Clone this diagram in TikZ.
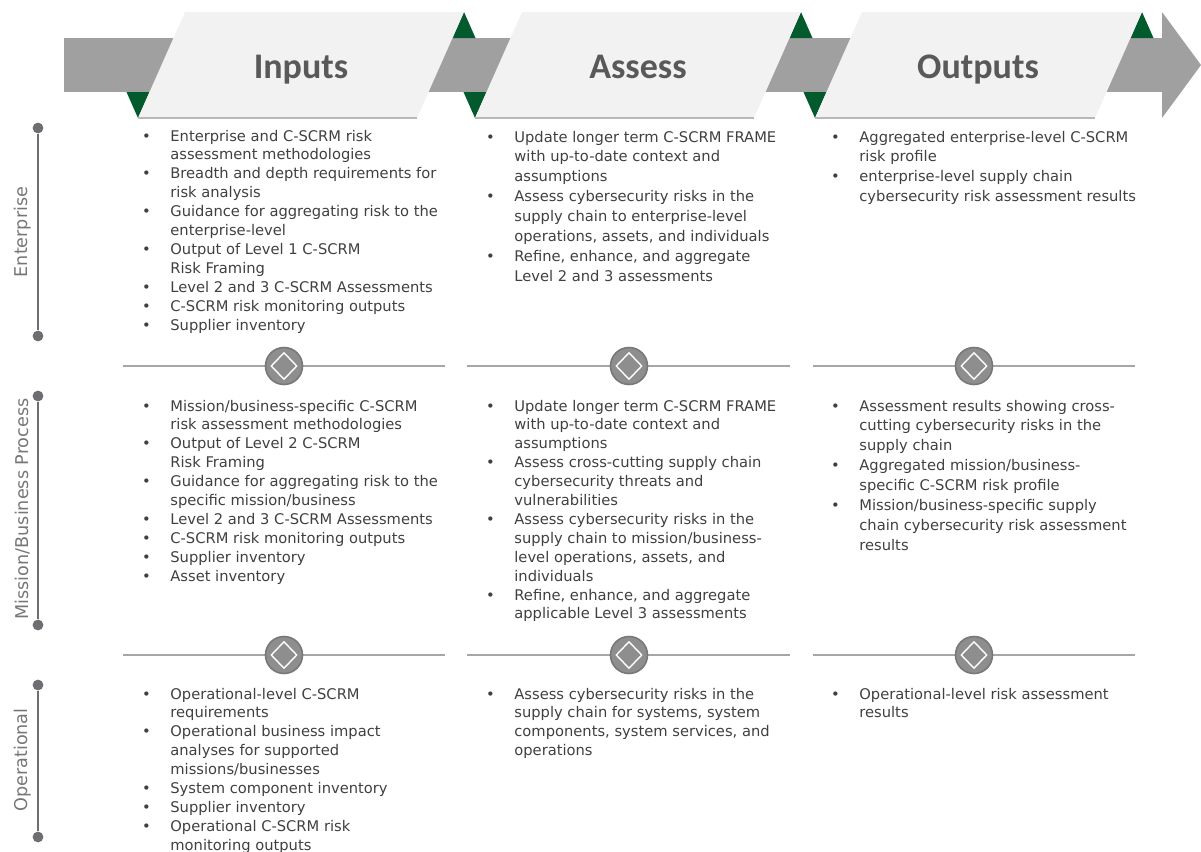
\documentclass[tikz,border=0pt]{standalone}
\usepackage{fontspec}
\setmainfont{DejaVu Sans}
\newfontfamily\headfont{Carlito}
\usetikzlibrary{shapes.geometric}

\definecolor{bandgray}{HTML}{A0A0A0}
\definecolor{panel}{HTML}{F2F2F2}
\definecolor{panelline}{HTML}{B8B8B8}
\definecolor{leaf}{HTML}{035A2D}
\definecolor{headtext}{HTML}{595959}
\definecolor{bodytext}{HTML}{404040}
\definecolor{axisgray}{HTML}{6E6E72}
\definecolor{labelgray}{HTML}{767676}
\definecolor{rulegray}{HTML}{A6A6A6}
\definecolor{knob}{HTML}{8E8E8E}
\definecolor{knobrim}{HTML}{787878}

% bullet cell of the item lists
\newcommand\bu{\makebox[24pt]{\textbullet}}

\begin{document}
\begin{tikzpicture}[x=0.5pt,y=-0.5pt,
  panelshape/.style={fill=panel},
  tri/.style={fill=leaf},
  head/.style={font={\headfont\bfseries\fontsize{18}{20}\selectfont}, text=headtext, inner sep=0, anchor=base},
  blk/.style={font={\fontsize{7.35}{9.45}\selectfont}, text=bodytext, inner sep=0, anchor=base west},
  blkw/.style={blk, font={\fontsize{7.35}{9.95}\selectfont}},
  dot/.style={circle, fill=axisgray, inner sep=0, minimum size=5.4pt},
  axis/.style={draw=axisgray, line width=1.2pt},
  lab/.style={font={\fontsize{8.8}{10}\selectfont}, text=labelgray, rotate=90, inner sep=0},
  rule/.style={draw=rulegray, line width=1pt},
  knobst/.style={circle, fill=knob, draw=knobrim, line width=0.8pt, minimum size=18.5pt, inner sep=0},
  gem/.style={diamond, draw=white, line width=0.7pt, minimum width=13pt, minimum height=13.5pt, inner sep=0}]

\useasboundingbox (0,0) rectangle (1201,852);

% ---------- process band with arrow head ----------
\fill[bandgray] (64,38) rectangle (1163,92);
\fill[bandgray] (1162,12) -- (1201,65) -- (1162,118) -- cycle;

% green wedges at the panel corners
\foreach \bx in {138,475,815}
  \fill[tri] (\bx-11.5,92) -- (\bx+11.5,92) -- (\bx,118) -- cycle;
\foreach \tx in {464,801,1142}
  \fill[tri] (\tx-11.5,38) -- (\tx+11.5,38) -- (\tx,12) -- cycle;

% stage panels
\fill[panelshape] (185,12) -- (464,12) -- (417,118) -- (138,118) -- cycle;
\fill[panelshape] (522,12) -- (801,12) -- (754,118) -- (475,118) -- cycle;
\fill[panelshape] (862,12) -- (1142,12) -- (1095,118) -- (815,118) -- cycle;
\draw[panelline, line width=0.6pt] (138,118) -- (417,118);
\draw[panelline, line width=0.6pt] (475,118) -- (754,118);
\draw[panelline, line width=0.6pt] (815,118) -- (1095,118);

\node[head] (hin)  at (301,78) {Inputs};
\node[head] (has)  at (638,78) {Assess};
\node[head] (hout) at (978,78) {Outputs};

% ---------- level axis ----------
\node[dot] (e1) at (38,128) {};
\node[dot] (e2) at (38,336) {};
\draw[axis] (e1) -- (e2);
\node[lab] (elab) at (23,232) {Enterprise};

\node[dot] (m1) at (38,396) {};
\node[dot] (m2) at (38,625) {};
\draw[axis] (m1) -- (m2);
\node[lab] (mlab) at (23,509) {Mission/Business Process};

\node[dot] (o1) at (38,685) {};
\node[dot] (o2) at (38,837) {};
\draw[axis] (o1) -- (o2);
\node[lab] (olab) at (23,760) {Operational};

% ---------- level separators ----------
\foreach \y/\r in {366/a,655/b}{
  \coordinate (r\r1l) at (123,\y);  \coordinate (r\r1r) at (445,\y);
  \coordinate (r\r2l) at (467,\y);  \coordinate (r\r2r) at (790,\y);
  \coordinate (r\r3l) at (813,\y);  \coordinate (r\r3r) at (1135,\y);
  \draw[rule] (r\r1l) -- (r\r1r);
  \draw[rule] (r\r2l) -- (r\r2r);
  \draw[rule] (r\r3l) -- (r\r3r);
  \node[knobst] (k\r1) at (284,\y) {};
  \node[knobst] (k\r2) at (629,\y) {};
  \node[knobst] (k\r3) at (974,\y) {};
  \node[gem] at (k\r1) {};
  \node[gem] at (k\r2) {};
  \node[gem] at (k\r3) {};
}

% ---------- Enterprise ----------
\node[blk] (ein) at (122,141) {\begin{tabular}[t]{@{}l@{}l@{}}
\bu & Enterprise and C-SCRM risk\\
    & assessment methodologies\\
\bu & Breadth and depth requirements for\\
    & risk analysis\\
\bu & Guidance for aggregating risk to the\\
    & enterprise-level\\
\bu & Output of Level 1 C-SCRM\\
    & Risk Framing\\
\bu & Level 2 and 3 C-SCRM Assessments\\
\bu & C-SCRM risk monitoring outputs\\
\bu & Supplier inventory
\end{tabular}};

\node[blkw] (eas) at (466,142) {\begin{tabular}[t]{@{}l@{}l@{}}
\bu & Update longer term C-SCRM FRAME\\
    & with up-to-date context and\\
    & assumptions\\
\bu & Assess cybersecurity risks in the\\
    & supply chain to enterprise-level\\
    & operations, assets, and individuals\\
\bu & Refine, enhance, and aggregate\\
    & Level 2 and 3 assessments
\end{tabular}};

\node[blkw] (eout) at (811,142) {\begin{tabular}[t]{@{}l@{}l@{}}
\bu & Aggregated enterprise-level C-SCRM\\
    & risk profile\\
\bu & enterprise-level supply chain\\
    & cybersecurity risk assessment results
\end{tabular}};

% ---------- Mission/Business Process ----------
\node[blk] (min) at (122,411) {\begin{tabular}[t]{@{}l@{}l@{}}
\bu & Mission/business-specific C-SCRM\\
    & risk assessment methodologies\\
\bu & Output of Level 2 C-SCRM\\
    & Risk Framing\\
\bu & Guidance for aggregating risk to the\\
    & specific mission/business\\
\bu & Level 2 and 3 C-SCRM Assessments\\
\bu & C-SCRM risk monitoring outputs\\
\bu & Supplier inventory\\
\bu & Asset inventory
\end{tabular}};

\node[blk] (mas) at (466,411) {\begin{tabular}[t]{@{}l@{}l@{}}
\bu & Update longer term C-SCRM FRAME\\
    & with up-to-date context and\\
    & assumptions\\
\bu & Assess cross-cutting supply chain\\
    & cybersecurity threats and\\
    & vulnerabilities\\
\bu & Assess cybersecurity risks in the\\
    & supply chain to mission/business-\\
    & level operations, assets, and\\
    & individuals\\
\bu & Refine, enhance, and aggregate\\
    & applicable Level 3 assessments
\end{tabular}};

\node[blkw] (mout) at (811,411) {\begin{tabular}[t]{@{}l@{}l@{}}
\bu & Assessment results showing cross-\\
    & cutting cybersecurity risks in the\\
    & supply chain\\
\bu & Aggregated mission/business-\\
    & specific C-SCRM risk profile\\
\bu & Mission/business-specific supply\\
    & chain cybersecurity risk assessment\\
    & results
\end{tabular}};

% ---------- Operational ----------
\node[blk] (oin) at (122,699) {\begin{tabular}[t]{@{}l@{}l@{}}
\bu & Operational-level C-SCRM\\
    & requirements\\
\bu & Operational business impact\\
    & analyses for supported\\
    & missions/businesses\\
\bu & System component inventory\\
\bu & Supplier inventory\\
\bu & Operational C-SCRM risk\\
    & monitoring outputs
\end{tabular}};

\node[blk] (oas) at (466,699) {\begin{tabular}[t]{@{}l@{}l@{}}
\bu & Assess cybersecurity risks in the\\
    & supply chain for systems, system\\
    & components, system services, and\\
    & operations
\end{tabular}};

\node[blk] (oout) at (811,699) {\begin{tabular}[t]{@{}l@{}l@{}}
\bu & Operational-level risk assessment\\
    & results
\end{tabular}};

\end{tikzpicture}
\end{document}
